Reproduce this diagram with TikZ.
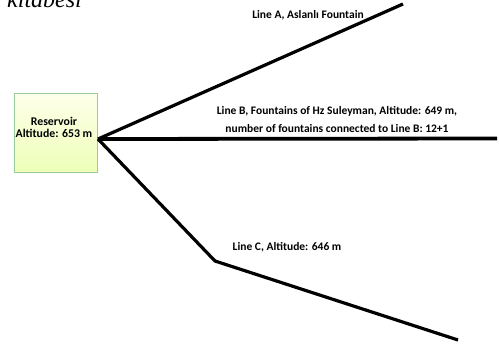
\documentclass[tikz,border=0pt]{standalone}
\usepackage{fontspec}
\setmainfont{Carlito}
\newfontfamily\titlefont{Liberation Serif}
\begin{document}
\begin{tikzpicture}[x=1pt,y=-1pt,
  lbl/.style={font=\bfseries\fontsize{11.5}{18}\selectfont, inner sep=0pt, align=center},
  pipe/.style={line width=3.2pt, line join=round},
  box/.style={draw=green!50!black!40!white, line width=0.6pt, top color=green!5!yellow!8!white, bottom color=green!25!yellow!28!white, minimum width=83pt, minimum height=79pt, inner sep=0pt}]
\useasboundingbox (0,0) rectangle (499,348);
\fill[black!75] (14.5,172) rectangle (97.5,173.3);
\node[box] (res) at (55.5,132.5) {};
\node[lbl, font=\bfseries\fontsize{11.8}{11.5}\selectfont] (reslbl) at (54,127.5) {Reservoir\\Altitude: 653 m};
\coordinate (hub) at (98,139);
\coordinate (aend) at (403,4);
\coordinate (bend) at (497,138.5);
\coordinate (ckink) at (215,261);
\coordinate (cend) at (458,340);
\draw[pipe] (hub) -- (aend);
\draw[pipe, line width=3.8pt] (hub) -- (bend);
\draw[pipe] (hub) -- (ckink) -- (cend);
\node[lbl] (la) at (308,15) {Line A, Aslanlı Fountain};
\node[lbl] (lb) at (337,119) {Line B, Fountains of Hz Suleyman, Altitude: 649 m,\\number of fountains connected to Line B: 12+1};
\node[lbl] (lc) at (287,247) {Line C, Altitude: 646 m};
\node[font=\titlefont\itshape\fontsize{24}{24}\selectfont, anchor=base west, inner sep=0pt] (kit) at (7,7) {kitabesi};
\end{tikzpicture}
\end{document}
